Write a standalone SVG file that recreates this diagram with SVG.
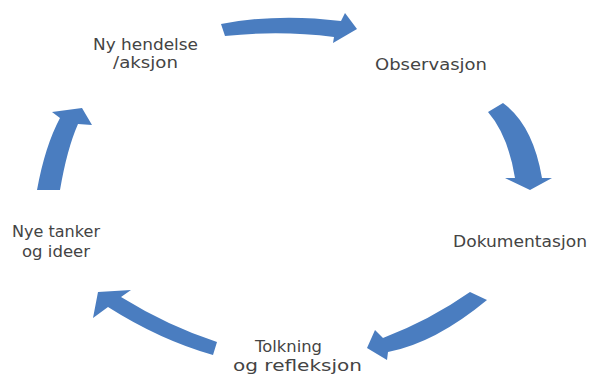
<svg xmlns="http://www.w3.org/2000/svg" width="590" height="378" viewBox="0 0 590 378">
<style>
.lbl{font-family:"DejaVu Sans","Liberation Sans",sans-serif;font-size:15px;fill:#444;}
.arr{fill:#4A7DC0;}
</style>
<rect width="590" height="378" fill="#ffffff"/>
<g id="connectors">
<path class="arr" d="M221,24 Q278,13 341,21 L345,13 L357,29 L333,43 L334,37 Q280,30 225,36 Z"/>
<path class="arr" d="M488,112 Q508,135 515,178 L505,178 L530,190 L552,178 L542,178 Q533,125 503,103 Z"/>
<path class="arr" d="M470,292 Q430,320 383,338 L375,330 L367,348 L387,360 L388,352 Q435,343 487,300 Z"/>
<path class="arr" d="M217,342 Q168,326 121,297 L131,290 L98,292 L93,318 L108,307 Q160,340 213,355 Z"/>
<path class="arr" d="M37,190 Q45,146 60,118 L52,112 L82,108 L92,125 L78,124 Q67,149 60,190 Z"/>
</g>
<g id="node-ny-hendelse">
<text class="lbl" x="93" y="50" textLength="105" lengthAdjust="spacingAndGlyphs">Ny hendelse</text>
<text class="lbl" x="113" y="68" textLength="65" lengthAdjust="spacingAndGlyphs">/aksjon</text>
</g>
<g id="node-observasjon">
<text class="lbl" x="375" y="70" textLength="112" lengthAdjust="spacingAndGlyphs">Observasjon</text>
</g>
<g id="node-dokumentasjon">
<text class="lbl" x="453" y="247" textLength="134" lengthAdjust="spacingAndGlyphs">Dokumentasjon</text>
</g>
<g id="node-tolkning">
<text class="lbl" x="255" y="352" textLength="67" lengthAdjust="spacingAndGlyphs">Tolkning</text>
<text class="lbl" x="233" y="371" textLength="129" lengthAdjust="spacingAndGlyphs">og refleksjon</text>
</g>
<g id="node-nye-tanker">
<text class="lbl" x="12" y="237" textLength="88" lengthAdjust="spacingAndGlyphs">Nye tanker</text>
<text class="lbl" x="22" y="257" textLength="68" lengthAdjust="spacingAndGlyphs">og ideer</text>
</g>
</svg>
